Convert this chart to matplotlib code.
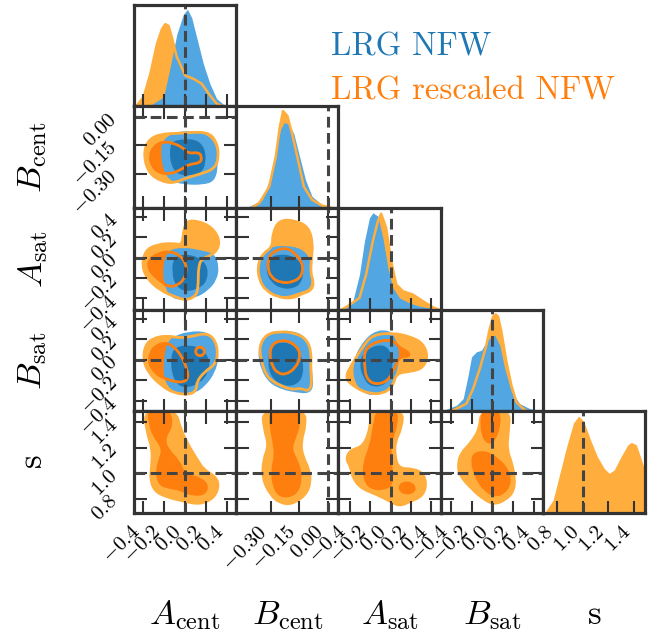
import matplotlib
matplotlib.use("Agg")
import matplotlib.pyplot as plt
from matplotlib.path import Path
from matplotlib.patches import PathPatch

plt.rcParams["mathtext.fontset"] = "cm"
plt.rcParams["font.family"] = "serif"
plt.rcParams["font.serif"] = ["cmr10", "DejaVu Serif"]
plt.rcParams["axes.unicode_minus"] = False

# ---- parameters ----
labels = [r"$A_{\rm cent}$", r"$B_{\rm cent}$", r"$A_{\rm sat}$", r"$B_{\rm sat}$", r"$\mathrm{s}$"]
limits = [(-0.49, 0.49), (-0.48, 0.055), (-0.51, 0.49), (-0.505, 0.49), (0.69, 1.485)]
ticks = [
    [-0.4, -0.2, 0.0, 0.2, 0.4],
    [-0.30, -0.15, 0.00],
    [-0.4, -0.2, 0.0, 0.2, 0.4],
    [-0.4, -0.2, 0.0, 0.2, 0.4],
    [0.8, 1.0, 1.2, 1.4],
]
tick_labels = [
    ["$-0.4$", "$-0.2$", "$0.0$", "$0.2$", "$0.4$"],
    ["$-0.30$", "$-0.15$", "$0.00$"],
    ["$-0.4$", "$-0.2$", "$0.0$", "$0.2$", "$0.4$"],
    ["$-0.4$", "$-0.2$", "$0.0$", "$0.2$", "$0.4$"],
    ["$0.8$", "$1.0$", "$1.2$", "$1.4$"],
]
truths = [0.0, 0.0, 0.0, 0.0, 1.0]

# ---- 1D marginals (x, relative height) ----
acen_blue = ([-0.40, -0.333, -0.206, -0.143, -0.079, -0.016, 0.022, 0.063, 0.111, 0.175, 0.238, 0.302, 0.365, 0.429, 0.47],
             [0.0, 0.010, 0.096, 0.405, 0.748, 0.954, 1.005, 0.920, 0.714, 0.439, 0.233, 0.079, 0.021, 0.007, 0.0])
acen_orange = ([-0.49, -0.460, -0.397, -0.333, -0.270, -0.222, -0.190, -0.159, -0.127, -0.079, -0.063, 0.0, 0.079, 0.159, 0.238, 0.302, 0.36],
               [0.0, 0.010, 0.096, 0.336, 0.645, 0.800, 0.851, 0.834, 0.714, 0.508, 0.474, 0.319, 0.285, 0.233, 0.113, 0.027, 0.0])
bcen_blue = ([-0.44, -0.411, -0.342, -0.307, -0.273, -0.247, -0.229, -0.204, -0.178, -0.152, -0.117, -0.083, -0.031, 0.004, 0.03],
             [0.0, 0.017, 0.086, 0.291, 0.599, 0.821, 0.889, 0.872, 0.770, 0.564, 0.291, 0.120, 0.034, 0.017, 0.0])
bcen_orange = ([-0.40, -0.359, -0.307, -0.273, -0.252, -0.235, -0.212, -0.187, -0.160, -0.126, -0.083, -0.031, 0.02],
               [0.0, 0.051, 0.222, 0.530, 0.838, 1.009, 0.958, 0.770, 0.530, 0.222, 0.086, 0.024, 0.0])
asat_blue = ([-0.50, -0.467, -0.369, -0.304, -0.255, -0.206, -0.173, -0.124, -0.075, -0.026, 0.023, 0.088, 0.186, 0.284, 0.382, 0.45],
             [0.0, 0.017, 0.087, 0.364, 0.710, 0.953, 1.005, 0.970, 0.745, 0.433, 0.225, 0.121, 0.069, 0.035, 0.017, 0.0])
asat_orange = ([-0.48, -0.435, -0.304, -0.239, -0.173, -0.124, -0.092, -0.043, 0.007, 0.056, 0.121, 0.219, 0.317, 0.415, 0.47],
               [0.0, 0.024, 0.121, 0.364, 0.710, 0.918, 0.995, 0.849, 0.502, 0.260, 0.191, 0.156, 0.087, 0.024, 0.0])
bsat_blue = ([-0.50, -0.479, -0.350, -0.285, -0.237, -0.204, -0.156, -0.107, -0.059, -0.010, 0.022, 0.071, 0.119, 0.184, 0.265, 0.362, 0.459, 0.49],
             [0.0, 0.010, 0.062, 0.132, 0.374, 0.565, 0.617, 0.634, 0.721, 0.773, 0.790, 0.686, 0.444, 0.201, 0.080, 0.028, 0.010, 0.0])
bsat_orange = ([-0.43, -0.382, -0.253, -0.188, -0.123, -0.059, -0.026, 0.006, 0.032, 0.055, 0.087, 0.136, 0.184, 0.233, 0.297, 0.34],
               [0.0, 0.010, 0.080, 0.236, 0.444, 0.686, 0.859, 0.981, 1.005, 0.981, 0.825, 0.513, 0.270, 0.097, 0.028, 0.0])
s_orange = ([0.706, 0.717, 0.770, 0.823, 0.876, 0.929, 0.968, 1.008, 1.061, 1.114, 1.167, 1.207, 1.246, 1.299, 1.352, 1.379, 1.418, 1.458, 1.498],
            [0.0, 0.028, 0.132, 0.409, 0.686, 0.929, 0.998, 0.946, 0.755, 0.582, 0.461, 0.409, 0.444, 0.582, 0.703, 0.728, 0.703, 0.547, 0.374])

# ---- 2D credible regions (x list, y list) ----
# B_cent vs A_cent
bcen_acen_or_out = ([-0.397, -0.365, -0.254, -0.048, 0.222, 0.308, 0.321, 0.286, 0.190, 0.016, -0.111, -0.238, -0.349],
                    [-0.208, -0.130, -0.092, -0.087, -0.078, -0.139, -0.217, -0.269, -0.295, -0.321, -0.351, -0.338, -0.295])
bcen_acen_or_in = ([-0.340, -0.302, -0.206, -0.111, -0.016, 0.032, 0.127, 0.159, 0.149, 0.032, -0.032, -0.143, -0.254, -0.317],
                   [-0.208, -0.156, -0.130, -0.139, -0.165, -0.194, -0.187, -0.208, -0.243, -0.251, -0.277, -0.303, -0.295, -0.260])
bcen_acen_bl_out = ([-0.222, -0.079, 0.111, 0.238, 0.308, 0.317, 0.286, 0.175, -0.016, -0.143, -0.206, -0.232],
                    [-0.121, -0.078, -0.075, -0.104, -0.165, -0.260, -0.338, -0.359, -0.357, -0.338, -0.286, -0.208])
bcen_acen_bl_in = ([-0.127, -0.016, 0.111, 0.190, 0.200, 0.159, 0.048, -0.079, -0.137, -0.149],
                   [-0.130, -0.118, -0.121, -0.165, -0.243, -0.295, -0.312, -0.303, -0.251, -0.182])

# A_sat vs A_cent
asat_acen_or_out = ([0.063, 0.222, 0.317, 0.327, 0.254, 0.159, 0.127, 0.127, 0.111, 0.016, -0.095, -0.238, -0.365, -0.413, -0.381, -0.270, -0.111, -0.032, -0.016, 0.0],
                    [0.372, 0.326, 0.219, 0.104, 0.023, -0.010, -0.092, -0.255, -0.370, -0.419, -0.386, -0.321, -0.206, -0.075, 0.072, 0.130, 0.143, 0.121, 0.235, 0.333])
asat_acen_or_in = ([-0.349, -0.270, -0.143, -0.048, 0.0, 0.016, -0.016, -0.079, -0.159, -0.222, -0.302, -0.349],
                   [-0.026, 0.039, 0.065, 0.023, -0.043, -0.125, -0.223, -0.272, -0.288, -0.239, -0.174, -0.108])
asat_acen_bl_out = ([-0.175, -0.016, 0.159, 0.286, 0.327, 0.302, 0.222, 0.111, -0.048, -0.143, -0.206, -0.213],
                    [0.072, 0.104, 0.072, 0.039, -0.092, -0.223, -0.321, -0.392, -0.419, -0.386, -0.255, -0.092])
asat_acen_bl_in = ([-0.111, 0.016, 0.159, 0.222, 0.206, 0.127, 0.0, -0.095, -0.127],
                   [0.006, 0.039, -0.010, -0.108, -0.239, -0.304, -0.337, -0.272, -0.141])

# A_sat vs B_cent
asat_bcen_or_out = ([-0.255, -0.169, -0.100, -0.079, -0.086, -0.091, -0.074, -0.086, -0.135, -0.187, -0.264, -0.325, -0.359, -0.368, -0.342, -0.290, -0.290],
                    [0.372, 0.366, 0.300, 0.137, -0.010, -0.157, -0.239, -0.321, -0.353, -0.402, -0.386, -0.321, -0.223, -0.075, 0.039, 0.104, 0.235])
asat_bcen_or_in = ([-0.290, -0.221, -0.169, -0.131, -0.135, -0.178, -0.247, -0.299, -0.316, -0.307],
                   [0.055, 0.104, 0.039, -0.059, -0.174, -0.239, -0.249, -0.190, -0.092, 0.006])
asat_bcen_bl_out = ([-0.307, -0.221, -0.135, -0.091, -0.083, -0.091, -0.143, -0.221, -0.290, -0.350, -0.373, -0.359],
                    [0.104, 0.121, 0.088, -0.010, -0.190, -0.304, -0.337, -0.386, -0.370, -0.272, -0.125, 0.006])
asat_bcen_bl_in = ([-0.307, -0.238, -0.169, -0.126, -0.135, -0.178, -0.247, -0.299, -0.325],
                   [0.006, 0.039, 0.006, -0.092, -0.239, -0.304, -0.304, -0.239, -0.125])

# B_sat vs A_cent
bsat_acen_or_out = ([-0.381, -0.302, -0.175, -0.048, 0.063, 0.206, 0.286, 0.317, 0.286, 0.190, 0.111, 0.111, 0.048, -0.111, -0.238, -0.349, -0.403],
                    [0.147, 0.212, 0.235, 0.212, 0.228, 0.261, 0.196, 0.065, -0.049, -0.115, -0.213, -0.294, -0.343, -0.327, -0.245, -0.131, 0.0])
bsat_acen_or_in = ([-0.333, -0.286, -0.175, -0.095, -0.032, 0.016, 0.032, -0.016, -0.111, -0.206, -0.286, -0.349],
                   [0.065, 0.137, 0.170, 0.114, 0.032, -0.082, -0.180, -0.222, -0.213, -0.180, -0.131, -0.033])
bsat_acen_or_in2 = ([0.188, 0.175, 0.143, 0.111, 0.098, 0.111, 0.143, 0.175],
                    [0.081, 0.113, 0.126, 0.113, 0.081, 0.049, 0.036, 0.049])
bsat_acen_bl_out = ([-0.111, 0.032, 0.206, 0.286, 0.327, 0.286, 0.190, 0.095, -0.048, -0.143, -0.206, -0.206, -0.175],
                    [0.228, 0.277, 0.277, 0.196, 0.032, -0.131, -0.262, -0.327, -0.333, -0.294, -0.180, 0.0, 0.163])
bsat_acen_bl_in = ([-0.111, 0.016, 0.159, 0.238, 0.222, 0.143, 0.016, -0.079, -0.127, -0.137],
                   [0.114, 0.147, 0.114, 0.0, -0.131, -0.229, -0.278, -0.245, -0.131, 0.0])

# B_sat vs B_cent
bsat_bcen_or_out = ([-0.325, -0.255, -0.169, -0.109, -0.086, -0.091, -0.083, -0.100, -0.143, -0.187, -0.238, -0.290, -0.325, -0.350, -0.359],
                    [0.245, 0.277, 0.261, 0.196, 0.065, -0.098, -0.229, -0.311, -0.278, -0.294, -0.262, -0.213, -0.147, 0.0, 0.130])
bsat_bcen_or_in = ([-0.290, -0.221, -0.160, -0.143, -0.169, -0.221, -0.264, -0.290, -0.307],
                   [0.163, 0.196, 0.130, 0.032, -0.082, -0.147, -0.131, -0.066, 0.049])
bsat_bcen_bl_out = ([-0.342, -0.273, -0.187, -0.117, -0.086, -0.083, -0.074, -0.100, -0.169, -0.238, -0.307, -0.350, -0.368],
                    [0.212, 0.277, 0.287, 0.228, 0.098, -0.131, -0.262, -0.333, -0.320, -0.294, -0.229, -0.098, 0.065])
bsat_bcen_bl_in = ([-0.299, -0.221, -0.160, -0.126, -0.135, -0.187, -0.247, -0.299, -0.316],
                   [0.147, 0.179, 0.114, -0.033, -0.196, -0.262, -0.245, -0.164, -0.017])

# B_sat vs A_sat
bsat_asat_or_out = ([-0.451, -0.369, -0.271, -0.173, 0.023, 0.186, 0.317, 0.366, 0.317, 0.203, 0.056, 0.023, -0.075, -0.206, -0.337],
                    [-0.180, -0.033, 0.130, 0.245, 0.261, 0.228, 0.163, 0.032, -0.082, -0.115, -0.131, -0.262, -0.333, -0.333, -0.278])
bsat_asat_or_in = ([-0.255, -0.141, 0.023, 0.088, 0.170, 0.186, 0.088, 0.039, -0.026, -0.157, -0.239, -0.255],
                   [0.098, 0.179, 0.196, 0.114, 0.081, 0.032, 0.032, -0.082, -0.213, -0.245, -0.180, -0.049])
bsat_asat_bl_out = ([-0.304, -0.173, -0.010, 0.056, 0.088, 0.072, 0.023, -0.075, -0.206, -0.304, -0.369, -0.353],
                    [0.130, 0.277, 0.294, 0.196, 0.065, -0.082, -0.229, -0.333, -0.353, -0.294, -0.164, 0.0])
bsat_asat_bl_in = ([-0.271, -0.141, -0.026, 0.023, 0.007, -0.075, -0.206, -0.271, -0.304],
                   [0.065, 0.147, 0.130, 0.0, -0.164, -0.262, -0.262, -0.164, -0.049])

# s vs A_cent (only the rescaled chain has s)
s_acen_or_out = ([-0.403, -0.381, -0.327, -0.333, -0.349, -0.302, -0.175, -0.016, 0.143, 0.286, 0.340, 0.302, 0.190, 0.127, 0.048, -0.032, -0.079],
                 [1.50, 1.323, 1.192, 1.061, 0.956, 0.851, 0.803, 0.772, 0.746, 0.798, 0.903, 0.982, 1.034, 1.113, 1.218, 1.349, 1.50])
s_acen_or_in = ([-0.365, -0.143, -0.111, -0.190, -0.159, -0.048, 0.0, 0.159, 0.232, 0.190, 0.048, -0.048, -0.143, -0.254, -0.286, -0.254, -0.222, -0.317, -0.349],
                [1.50, 1.50, 1.376, 1.271, 1.192, 1.100, 0.995, 0.969, 0.903, 0.825, 0.825, 0.864, 0.877, 0.903, 1.008, 1.113, 1.192, 1.297, 1.389])

# s vs B_cent
s_bcen_or_out = ([-0.350, -0.117, -0.109, -0.135, -0.126, -0.091, -0.083, -0.109, -0.187, -0.255, -0.307, -0.350, -0.345, -0.316, -0.342],
                 [1.50, 1.50, 1.376, 1.244, 1.139, 1.034, 0.929, 0.825, 0.746, 0.759, 0.825, 0.956, 1.113, 1.218, 1.349])
s_bcen_or_in = ([-0.307, -0.152, -0.143, -0.169, -0.187, -0.160, -0.135, -0.143, -0.187, -0.255, -0.290, -0.299, -0.281, -0.290, -0.307],
                [1.50, 1.50, 1.376, 1.271, 1.192, 1.113, 1.008, 0.877, 0.812, 0.812, 0.890, 1.034, 1.139, 1.244, 1.376])

# s vs A_sat
s_asat_or_out = ([-0.206, 0.137, 0.121, 0.056, 0.056, 0.088, 0.219, 0.333, 0.366, 0.317, 0.203, 0.088, -0.010, -0.141, -0.304, -0.386, -0.402, -0.451, -0.402, -0.271, -0.206],
                 [1.50, 1.50, 1.349, 1.244, 1.139, 1.047, 1.047, 1.008, 0.903, 0.812, 0.772, 0.732, 0.772, 0.825, 0.877, 0.969, 1.047, 1.113, 1.192, 1.218, 1.376])
s_asat_or_in = ([-0.141, 0.072, 0.072, 0.023, 0.007, 0.023, 0.023, -0.075, -0.206, -0.271, -0.271, -0.206, -0.173],
                [1.50, 1.50, 1.376, 1.271, 1.166, 1.008, 0.903, 0.864, 0.877, 0.956, 1.087, 1.218, 1.376])
s_asat_or_in2 = ([0.080, 0.121, 0.203, 0.255, 0.225, 0.137, 0.080],
                 [0.910, 0.936, 0.936, 0.890, 0.840, 0.832, 0.864])

# s vs B_sat
s_bsat_or_out = ([-0.123, 0.184, 0.168, 0.152, 0.200, 0.233, 0.217, 0.136, 0.022, -0.091, -0.220, -0.334, -0.350, -0.317, -0.220, -0.139],
                 [1.50, 1.50, 1.323, 1.192, 1.087, 0.956, 0.851, 0.785, 0.746, 0.785, 0.877, 0.982, 1.074, 1.166, 1.244, 1.349])
s_bsat_or_in = ([-0.107, 0.087, 0.071, -0.010, -0.091, -0.123],
                [1.50, 1.50, 1.323, 1.218, 1.257, 1.376])
s_bsat_or_in2 = ([-0.188, -0.059, 0.071, 0.168, 0.184, 0.119, 0.022, -0.091, -0.172, -0.214],
                 [1.166, 1.179, 1.113, 1.021, 0.916, 0.838, 0.812, 0.864, 0.969, 1.087])

marginals = {
    0: (acen_blue, acen_orange),
    1: (bcen_blue, bcen_orange),
    2: (asat_blue, asat_orange),
    3: (bsat_blue, bsat_orange),
    4: (None, s_orange),
}
panels = {
    (1, 0): dict(or_out=[bcen_acen_or_out], or_in=[bcen_acen_or_in], bl_out=[bcen_acen_bl_out], bl_in=[bcen_acen_bl_in]),
    (2, 0): dict(or_out=[asat_acen_or_out], or_in=[asat_acen_or_in], bl_out=[asat_acen_bl_out], bl_in=[asat_acen_bl_in]),
    (2, 1): dict(or_out=[asat_bcen_or_out], or_in=[asat_bcen_or_in], bl_out=[asat_bcen_bl_out], bl_in=[asat_bcen_bl_in]),
    (3, 0): dict(or_out=[bsat_acen_or_out], or_in=[bsat_acen_or_in, bsat_acen_or_in2], bl_out=[bsat_acen_bl_out], bl_in=[bsat_acen_bl_in]),
    (3, 1): dict(or_out=[bsat_bcen_or_out], or_in=[bsat_bcen_or_in], bl_out=[bsat_bcen_bl_out], bl_in=[bsat_bcen_bl_in]),
    (3, 2): dict(or_out=[bsat_asat_or_out], or_in=[bsat_asat_or_in], bl_out=[bsat_asat_bl_out], bl_in=[bsat_asat_bl_in]),
    (4, 0): dict(or_out=[s_acen_or_out], or_in=[s_acen_or_in], bl_out=[], bl_in=[]),
    (4, 1): dict(or_out=[s_bcen_or_out], or_in=[s_bcen_or_in], bl_out=[], bl_in=[]),
    (4, 2): dict(or_out=[s_asat_or_out], or_in=[s_asat_or_in, s_asat_or_in2], bl_out=[], bl_in=[]),
    (4, 3): dict(or_out=[s_bsat_or_out], or_in=[s_bsat_or_in, s_bsat_or_in2], bl_out=[], bl_in=[]),
}

# colours
BLUE = "#1f77b4"
BLUE_LIGHT = "#52a6e1"
ORANGE = "#ff7f0e"
ORANGE_LIGHT = "#ffae3d"
EDGE = "#333333"
TRUTH = "#444444"
TRUTH_LS = (0, (3.5, 1.8))


def region(x, y, **kw):
    # closed outline through the read-off points, rounded with quadratic curves
    pts = list(zip(x, y))
    m = len(pts)
    mids = [((pts[i][0] + pts[(i + 1) % m][0]) / 2, (pts[i][1] + pts[(i + 1) % m][1]) / 2) for i in range(m)]
    verts = [mids[-1]]
    codes = [Path.MOVETO]
    for i in range(m):
        verts += [pts[i], mids[i]]
        codes += [Path.CURVE3, Path.CURVE3]
    verts.append(mids[-1])
    codes.append(Path.CLOSEPOLY)
    return PathPatch(Path(verts, codes), **kw)


n = len(labels)
fig, axes = plt.subplots(n, n, figsize=(6.6, 6.35), dpi=100,
                         gridspec_kw=dict(hspace=0, wspace=0))
fig.subplots_adjust(left=134 / 660, right=645 / 660, bottom=1 - 513 / 635, top=1 - 4.5 / 635)

for row in range(n):
    for col in range(n):
        ax = axes[row, col]
        if col > row:
            ax.set_visible(False)
            continue
        for sp in ax.spines.values():
            sp.set_linewidth(2.3)
            sp.set_color(EDGE)
        ax.set_xlim(limits[col])
        ax.set_xticks(ticks[col])
        if row == n - 1:
            ax.set_xticklabels(tick_labels[col], rotation=45, ha="right", fontsize=15)
        else:
            ax.set_xticklabels([])

        if row == col:
            blue, orange = marginals[col]
            top = max(orange[1]) if blue is None else max(max(blue[1]), max(orange[1]))
            ax.fill_between(orange[0], orange[1], color=ORANGE_LIGHT, lw=0, zorder=1)
            if blue is not None:
                ax.fill_between(blue[0], blue[1], color=BLUE_LIGHT, lw=0, zorder=1.2)
                ax.plot(orange[0], orange[1], color=ORANGE_LIGHT, lw=1.8, zorder=1.4)
            ax.set_ylim(0, 1.05 * top)
            ax.set_yticks([])
            ax.tick_params(axis="x", direction="in", length=9, width=1.5, color=EDGE,
                           top=False, pad=7)
            ax.axvline(truths[col], color=TRUTH, lw=2.2, ls=TRUTH_LS, zorder=2)
            continue

        layers = panels[(row, col)]
        for x, y in layers["or_out"]:
            ax.add_patch(region(x, y, facecolor=ORANGE_LIGHT, lw=0, zorder=1.0))
        for x, y in layers["or_in"]:
            ax.add_patch(region(x, y, facecolor=ORANGE, lw=0, zorder=1.1))
        for x, y in layers["bl_out"]:
            ax.add_patch(region(x, y, facecolor=BLUE_LIGHT, lw=0, zorder=1.2))
        for x, y in layers["bl_in"]:
            ax.add_patch(region(x, y, facecolor=BLUE, lw=0, zorder=1.3))
        if layers["bl_out"]:
            for x, y in layers["or_out"]:
                ax.add_patch(region(x, y, facecolor="none", edgecolor=ORANGE_LIGHT, lw=2.0, zorder=1.4))
            for x, y in layers["or_in"]:
                ax.add_patch(region(x, y, facecolor="none", edgecolor=ORANGE, lw=2.0, zorder=1.5))

        ax.set_ylim(limits[row])
        ax.set_yticks(ticks[row])
        if col == 0:
            ax.set_yticklabels(tick_labels[row], rotation=45, ha="right", va="center",
                               rotation_mode="anchor", fontsize=15)
        else:
            ax.set_yticklabels([])
        ax.tick_params(direction="in", length=9, width=1.5, color=EDGE,
                       top=True, right=True)
        ax.tick_params(axis="x", pad=7)
        ax.tick_params(axis="y", pad=14)
        ax.axvline(truths[col], color=TRUTH, lw=2.2, ls=TRUTH_LS, zorder=2)
        ax.axhline(truths[row], color=TRUTH, lw=2.2, ls=TRUTH_LS, zorder=2)

# axis labels
for i in range(n):
    pos = axes[n - 1, i].get_position()
    fig.text((pos.x0 + pos.x1) / 2, 1 - 624 / 635, labels[i], ha="center", va="baseline", fontsize=25)
for i in range(1, n):
    pos = axes[i, 0].get_position()
    fig.text(33 / 660, (pos.y0 + pos.y1) / 2, labels[i], rotation=90, ha="center", va="center", fontsize=25)

# legend
fig.text(331 / 660, 1 - 56 / 635, "LRG NFW", color=BLUE, fontsize=23.5, va="baseline")
fig.text(331 / 660, 1 - 100 / 635, "LRG rescaled NFW", color=ORANGE, fontsize=23.5, va="baseline")

fig.savefig("out.png", dpi=100)
